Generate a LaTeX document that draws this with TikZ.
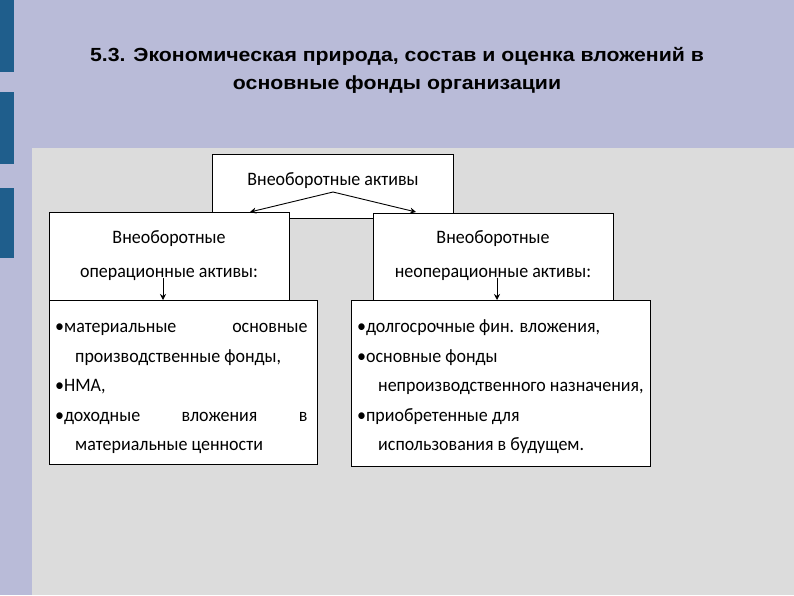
\documentclass[tikz,border=0pt]{standalone}
\usetikzlibrary{arrows.meta}
\usepackage{fontspec}
\setmainfont{Carlito}
\newfontfamily\titlefont{Liberation Sans}
\definecolor{lav}{HTML}{B9BBD8}
\definecolor{barblue}{HTML}{1F5E8C}
\definecolor{panel}{HTML}{DCDCDC}
\begin{document}
\begin{tikzpicture}[x=1pt,y=-1pt,
  box/.style={draw=black,line width=1pt,fill=white},
  txt/.style={font=\fontsize{19}{22}\selectfont,anchor=base west,inner sep=0pt,xscale=0.945},
  ctxt/.style={font=\fontsize{19}{22}\selectfont,anchor=base,inner sep=0pt,xscale=0.945},
  arr/.style={-{Stealth[length=6pt,width=6pt]},line width=0.9pt}]
\useasboundingbox (0,0) rectangle (794,595);
\fill[lav] (0,0) rectangle (794,595);
\fill[panel] (32,148) rectangle (794,595);
\foreach \a/\b in {0/72,92/164,188/258} \fill[barblue] (0,\a) rectangle (14,\b);
\node[font=\titlefont\bfseries\fontsize{19}{28}\selectfont,align=center,inner sep=0pt,xscale=1.12] (title) at (397,70)
 {5.3. Экономическая природа, состав и оценка вложений в\\основные фонды организации};
% boxes
\draw[box] (212,154) rectangle (453,218);
\coordinate (topc) at (333,192);
\node[ctxt] (top) at (333,185) {Внеоборотные активы};
\draw[box] (49,212) rectangle (289,300);
\node[ctxt] (lm1) at (169,243) {Внеоборотные};
\node[ctxt] (lm2) at (169,277) {операционные активы:};
\draw[box] (373,213) rectangle (613,300);
\node[ctxt] (rm1) at (493,243) {Внеоборотные};
\node[ctxt] (rm2) at (493,277) {неоперационные активы:};
\coordinate (la) at (250,212);
\coordinate (ra) at (416,212);
\draw[arr] (topc) -- (la);
\draw[arr] (topc) -- (ra);
\draw[box] (49,300) rectangle (317,464);
\draw[box] (351,300) rectangle (650,466);
\coordinate (lv1) at (163,278); \coordinate (lv2) at (163,300);
\coordinate (rv1) at (497,278); \coordinate (rv2) at (497,300);
\draw[arr] (lv1) -- (lv2);
\draw[arr] (rv1) -- (rv2);
% left list
\node[txt] (l1) at (55,332) {\makebox[267pt][s]{•материальные\hfill основные}};
\node[txt] (l2) at (75,362) {производственные фонды,};
\node[txt] (l3) at (55,391) {•НМА,};
\node[txt] (l4) at (55,421) {\makebox[267pt][s]{•доходные\hfill вложения\hfill в}};
\node[txt] (l5) at (75,450) {материальные ценности};
% right list
\node[txt] (r1) at (357,332) {•долгосрочные фин. вложения,};
\node[txt] (r2) at (357,362) {•основные фонды};
\node[txt] (r3) at (378,391) {непроизводственного назначения,};
\node[txt] (r4) at (357,421) {•приобретенные для};
\node[txt] (r5) at (378,450) {использования в будущем.};
\end{tikzpicture}
\end{document}
